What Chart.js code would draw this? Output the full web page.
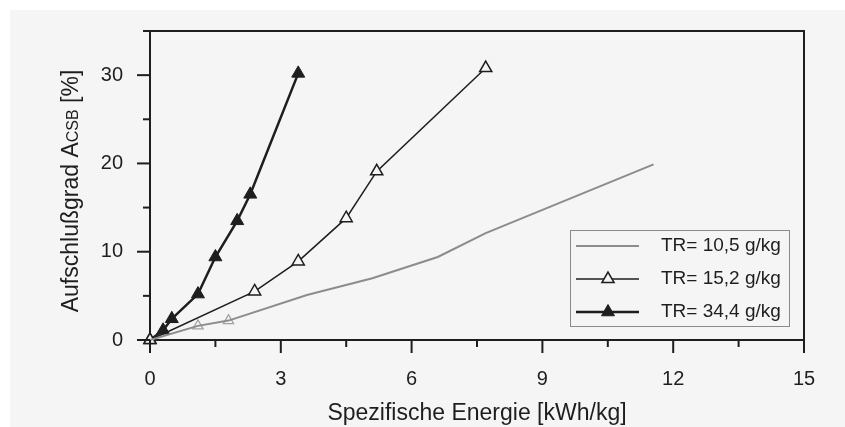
<!DOCTYPE html>
<html>
<head>
<meta charset="utf-8">
<script src="https://cdn.jsdelivr.net/npm/chart.js@4.4.1/dist/chart.umd.min.js"></script>
<style>
  html, body { margin: 0; padding: 0; background: #ffffff; }
  #wrap { width: 845px; height: 427px; }
</style>
</head>
<body>
<div id="wrap"><canvas id="energyChart" width="845" height="427"></canvas></div>
<script>
// Specific energy [kWh/kg] vs. degree of disintegration [%]
const seriesLabels = ['TR= 10,5 g/kg', 'TR= 15,2 g/kg', 'TR= 34,4 g/kg'];

const energyTR105 = [0, 1.1, 1.8, 3.6, 5.1, 6.6, 7.7, 11.55];
const degreeTR105 = [0, 1.6, 2.2, 5.1, 7.0, 9.4, 12.1, 19.9];

const energyTR152 = [0, 2.4, 3.4, 4.5, 5.2, 7.7];
const degreeTR152 = [0, 5.5, 8.9, 13.8, 19.1, 30.8];

const energyTR344 = [0, 0.3, 0.5, 1.1, 1.5, 2.0, 2.3, 3.4];
const degreeTR344 = [0, 1.1, 2.4, 5.2, 9.4, 13.5, 16.5, 30.2];

// faint open markers sitting on the 10,5 g/kg curve
const energyFaint = [1.1, 1.8];
const degreeFaint = [1.6, 2.2];

const xTicks = [0, 3, 6, 9, 12, 15];
const yTicks = [0, 10, 20, 30];

const toPoints = (xs, ys) => xs.map((x, i) => ({ x: x, y: ys[i] }));

const FONT = 'Liberation Sans, Arial, sans-serif';
const INK = '#1e1e1e';
const PAPER = '#f5f5f5';

// paper background, frame, tick marks and the rotated y title
const framePlugin = {
    id: 'frame',
    beforeDraw(chart) {
        const ctx = chart.ctx;
        ctx.save();
        ctx.fillStyle = PAPER;
        ctx.fillRect(10, 10, chart.width - 10, chart.height - 10);
        ctx.restore();
    },
    afterDraw(chart) {
        const ctx = chart.ctx;
        const a = chart.chartArea;
        const xs = chart.scales.x;
        const ys = chart.scales.y;
        ctx.save();
        ctx.strokeStyle = INK;
        ctx.lineWidth = 2;
        ctx.beginPath();
        ctx.moveTo(a.left, a.top);
        ctx.lineTo(a.right, a.top);
        ctx.lineTo(a.right, a.bottom);
        ctx.stroke();

        // x ticks: major every 3, minor every 1.5
        for (let v = 0; v <= 15.001; v += 1.5) {
            const px = xs.getPixelForValue(v);
            const len = xTicks.includes(Math.round(v * 10) / 10) ? 13 : 7;
            ctx.beginPath();
            ctx.moveTo(px, a.bottom);
            ctx.lineTo(px, a.bottom + len);
            ctx.stroke();
        }
        // y ticks: major every 10, minor every 5
        for (let v = 0; v <= 35; v += 5) {
            const py = ys.getPixelForValue(v);
            const len = yTicks.includes(v) ? 13 : 7;
            ctx.beginPath();
            ctx.moveTo(a.left, py);
            ctx.lineTo(a.left - len, py);
            ctx.stroke();
        }

        // y title with small "CSB" index
        const parts = [
            ['Aufschlußgrad A', 23],
            ['CSB', 16],
            [' [%]', 23]
        ];
        let total = 0;
        parts.forEach(p => {
            ctx.font = p[1] + 'px ' + FONT;
            total += ctx.measureText(p[0]).width;
        });
        ctx.translate(70, 191);
        ctx.rotate(-Math.PI / 2);
        ctx.fillStyle = INK;
        ctx.textBaseline = 'alphabetic';
        let cx = -total / 2;
        parts.forEach(p => {
            ctx.font = p[1] + 'px ' + FONT;
            ctx.fillText(p[0], cx, 8);
            cx += ctx.measureText(p[0]).width;
        });
        ctx.restore();
    }
};

// boxed legend inside the plot with a line + marker sample per series
const legendPlugin = {
    id: 'boxLegend',
    afterDraw(chart) {
        const ctx = chart.ctx;
        const a = chart.chartArea;
        const w = 219, h = 96;
        const left = a.right - 15 - w;
        const top = a.bottom - 14 - h;
        ctx.save();
        ctx.fillStyle = PAPER;
        ctx.fillRect(left, top, w, h);
        ctx.strokeStyle = '#8a8a8a';
        ctx.lineWidth = 1;
        ctx.strokeRect(left + 0.5, top + 0.5, w, h);

        ctx.font = '19px ' + FONT;
        ctx.textBaseline = 'middle';
        for (let i = 0; i < 3; i++) {
            const ds = chart.data.datasets[i];
            const y = top + 16 + i * 33;
            ctx.strokeStyle = ds.borderColor;
            ctx.lineWidth = ds.borderWidth;
            ctx.beginPath();
            ctx.moveTo(left + 6, y);
            ctx.lineTo(left + 69, y);
            ctx.stroke();
            if (ds.pointRadius > 0) {
                ctx.fillStyle = ds.pointBackgroundColor;
                ctx.strokeStyle = ds.pointBorderColor;
                ctx.lineWidth = ds.pointBorderWidth;
                ctx.beginPath();
                const r = ds.pointRadius;
                for (let k = 0; k < 3; k++) {
                    const ang = k * 2 * Math.PI / 3;
                    const px = left + 38 + Math.sin(ang) * r;
                    const py = y - Math.cos(ang) * r;
                    if (k === 0) ctx.moveTo(px, py); else ctx.lineTo(px, py);
                }
                ctx.closePath();
                ctx.fill();
                ctx.stroke();
            }
            ctx.fillStyle = INK;
            ctx.fillText(ds.label, left + 91, y);
        }
        ctx.restore();
    }
};

const ctx = document.getElementById('energyChart').getContext('2d');
const energyChart = new Chart(ctx, {
    type: 'line',
    data: {
        datasets: [
            {
                label: seriesLabels[0],
                data: toPoints(energyTR105, degreeTR105),
                borderColor: '#8c8c8c',
                borderWidth: 2,
                pointRadius: 0,
                tension: 0,
                clip: false
            },
            {
                label: seriesLabels[1],
                data: toPoints(energyTR152, degreeTR152),
                borderColor: INK,
                borderWidth: 1.5,
                pointStyle: 'triangle',
                pointRadius: 7,
                pointBackgroundColor: PAPER,
                pointBorderColor: INK,
                pointBorderWidth: 1.5,
                tension: 0,
                clip: false
            },
            {
                label: seriesLabels[2],
                data: toPoints(energyTR344, degreeTR344),
                borderColor: INK,
                borderWidth: 2.5,
                pointStyle: 'triangle',
                pointRadius: 7.5,
                pointBackgroundColor: INK,
                pointBorderColor: INK,
                pointBorderWidth: 1,
                tension: 0,
                clip: false
            },
            {
                label: 'faint',
                data: toPoints(energyFaint, degreeFaint),
                showLine: false,
                pointStyle: 'triangle',
                pointRadius: 6,
                pointBackgroundColor: PAPER,
                pointBorderColor: '#a0a0a0',
                pointBorderWidth: 1.2,
                clip: false
            }
        ]
    },
    options: {
        responsive: false,
        animation: false,
        events: [],
        layout: { padding: { left: 0, top: 31, right: 41, bottom: 0 } },
        plugins: {
            legend: { display: false },
            tooltip: { enabled: false }
        },
        scales: {
            x: {
                type: 'linear',
                min: 0,
                max: 15,
                afterFit(scale) {
                    scale.height = 87;
                    scale.paddingLeft = 0;
                    scale.paddingRight = 0;
                },
                afterBuildTicks(scale) { scale.ticks = xTicks.map(v => ({ value: v })); },
                grid: { drawOnChartArea: false, drawTicks: false },
                border: { display: true, color: INK, width: 2 },
                ticks: {
                    padding: 27,
                    color: INK,
                    font: { family: FONT, size: 20 },
                    maxRotation: 0
                },
                title: {
                    display: true,
                    text: 'Spezifische Energie [kWh/kg]',
                    color: INK,
                    font: { family: FONT, size: 23 },
                    padding: { top: 0, bottom: 0 }
                }
            },
            y: {
                min: 0,
                max: 35,
                afterFit(scale) {
                    scale.width = 150;
                    scale.paddingTop = 0;
                    scale.paddingBottom = 0;
                },
                afterBuildTicks(scale) { scale.ticks = yTicks.map(v => ({ value: v })); },
                grid: { drawOnChartArea: false, drawTicks: false },
                border: { display: true, color: INK, width: 2 },
                ticks: {
                    padding: 27,
                    color: INK,
                    font: { family: FONT, size: 20 }
                }
            }
        }
    },
    plugins: [framePlugin, legendPlugin]
});
</script>
</body>
</html>
